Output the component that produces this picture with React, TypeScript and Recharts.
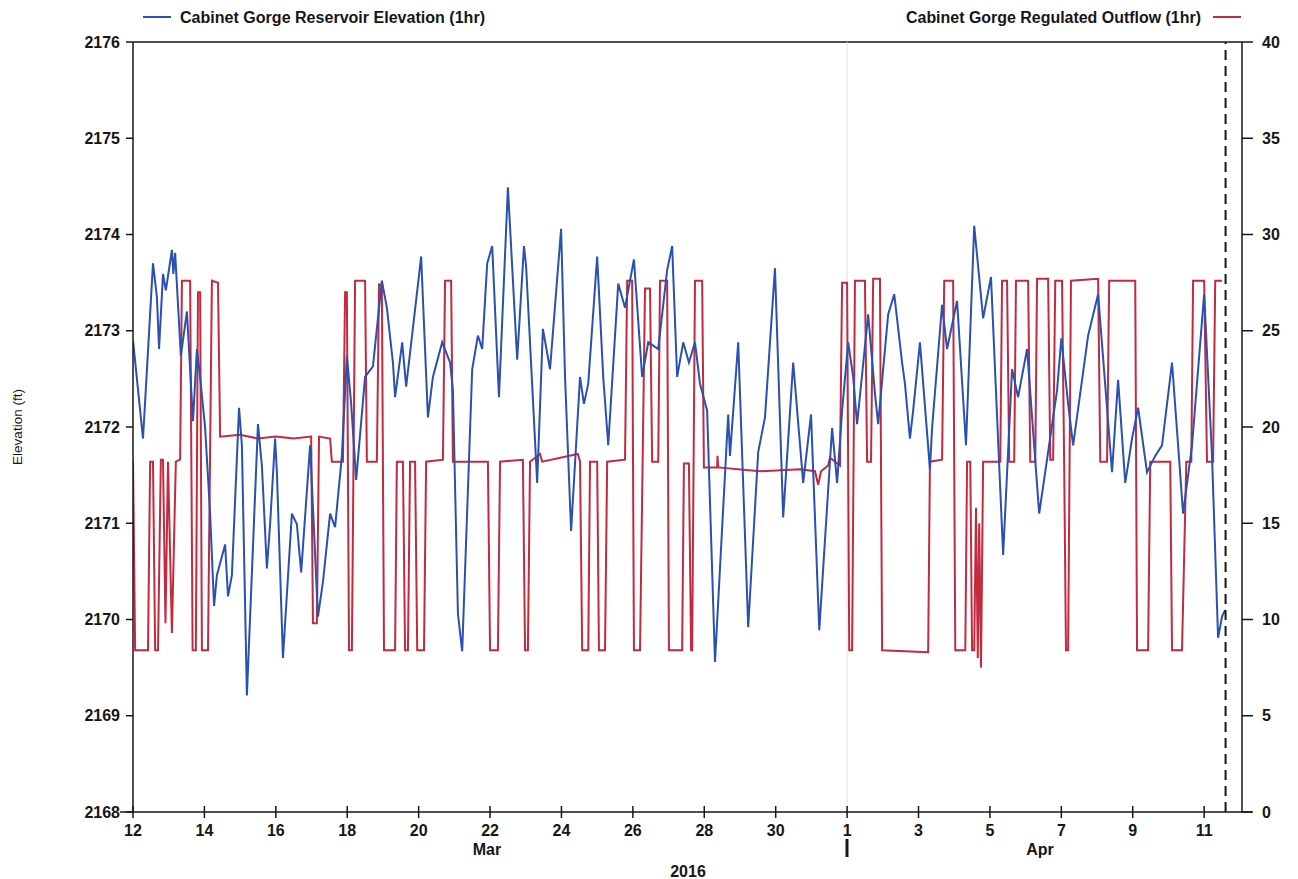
import React from 'react';
import { LineChart, Line, XAxis, YAxis, ReferenceLine } from 'recharts';

// Day offsets from 12 Mar 2016 (0 = Mar 12, 20 = Apr 1)
const elevDays = [
  0.00, 0.28, 0.56, 0.67, 0.73, 0.84, 0.92, 1.09, 1.13, 1.18, 1.34, 1.51, 1.68, 1.79, 1.88, 2.02, 2.16, 2.27, 2.35, 2.58,
  2.66, 2.77, 2.97, 3.05, 3.19, 3.50, 3.61, 3.75, 3.84, 3.98, 4.03, 4.20, 4.45, 4.59, 4.71, 4.96, 5.18, 5.32, 5.52, 5.66,
  5.85, 5.99, 6.11, 6.25, 6.50, 6.72, 6.97, 7.11, 7.28, 7.34, 7.54, 7.65, 7.76, 8.07, 8.26, 8.40, 8.66, 8.88, 8.96, 9.10,
  9.22, 9.50, 9.66, 9.78, 9.92, 10.06, 10.25, 10.50, 10.76, 10.95, 11.01, 11.32, 11.48, 11.68, 11.99, 12.10, 12.27, 12.52, 12.63, 12.75,
  13.00, 13.17, 13.31, 13.59, 13.78, 14.03, 14.26, 14.43, 14.71, 14.96, 15.10, 15.24, 15.41, 15.57, 15.74, 15.88, 16.08, 16.30, 16.67, 16.72,
  16.95, 17.23, 17.51, 17.70, 17.98, 18.21, 18.49, 18.77, 18.99, 19.22, 19.58, 19.72, 19.86, 20.03, 20.17, 20.28, 20.59, 20.78, 20.87, 21.15,
  21.32, 21.54, 21.62, 21.76, 21.85, 22.04, 22.32, 22.38, 22.66, 22.80, 23.08, 23.33, 23.56, 23.81, 24.03, 24.37, 24.62, 24.79, 25.04, 25.38,
  25.88, 26.00, 26.19, 26.33, 26.75, 27.03, 27.42, 27.59, 27.79, 27.98, 28.15, 28.40, 28.63, 28.82, 29.10, 29.41, 29.66, 30.00, 30.22, 30.39,
  30.50, 30.59,
];
const elevValues = [
  2172.90, 2171.88, 2173.70, 2173.35, 2172.81, 2173.59, 2173.42, 2173.84, 2173.59, 2173.81, 2172.74, 2173.20, 2172.06, 2172.81, 2172.52, 2171.99, 2171.10, 2170.14, 2170.46, 2170.78,
  2170.24, 2170.46, 2172.20, 2171.81, 2169.21, 2172.03, 2171.60, 2170.53, 2170.99, 2171.88, 2171.53, 2169.60, 2171.10, 2170.99, 2170.49, 2171.81, 2170.03, 2170.39, 2171.10, 2170.96,
  2171.70, 2172.74, 2172.24, 2171.45, 2172.52, 2172.63, 2173.52, 2173.24, 2172.67, 2172.31, 2172.88, 2172.42, 2172.77, 2173.77, 2172.10, 2172.52, 2172.88, 2172.67, 2172.38, 2170.06,
  2169.67, 2172.60, 2172.95, 2172.81, 2173.70, 2173.88, 2172.31, 2174.49, 2172.70, 2173.88, 2173.67, 2171.42, 2173.02, 2172.60, 2174.06, 2172.52, 2170.92, 2172.52, 2172.24, 2172.45,
  2173.77, 2172.52, 2171.81, 2173.49, 2173.24, 2173.74, 2172.52, 2172.88, 2172.81, 2173.63, 2173.88, 2172.52, 2172.88, 2172.67, 2172.88, 2172.45, 2172.17, 2169.56, 2172.13, 2171.70,
  2172.88, 2169.92, 2171.74, 2172.10, 2173.65, 2171.06, 2172.67, 2171.42, 2172.13, 2169.89, 2171.99, 2171.42, 2172.17, 2172.88, 2172.52, 2172.03, 2173.17, 2172.35, 2172.03, 2173.17,
  2173.38, 2172.67, 2172.45, 2171.88, 2172.17, 2172.88, 2171.56, 2171.99, 2173.27, 2172.81, 2173.31, 2171.81, 2174.09, 2173.13, 2173.56, 2170.67, 2172.60, 2172.31, 2172.81, 2171.10,
  2172.38, 2172.92, 2172.24, 2171.81, 2172.95, 2173.38, 2171.53, 2172.49, 2171.42, 2171.88, 2172.20, 2171.53, 2171.70, 2171.81, 2172.67, 2171.10, 2171.81, 2173.38, 2171.70, 2169.81,
  2170.03, 2170.10,
];

const flowDays = [
  0.00, 0.06, 0.42, 0.48, 0.56, 0.62, 0.70, 0.78, 0.84, 0.91, 0.98, 1.09, 1.20, 1.32, 1.37, 1.60, 1.67, 1.76, 1.82, 1.88,
  1.93, 2.10, 2.21, 2.38, 2.44, 3.00, 3.50, 4.00, 4.50, 4.99, 5.04, 5.15, 5.21, 5.52, 5.57, 5.88, 5.94, 5.99, 6.05, 6.13,
  6.22, 6.50, 6.55, 6.83, 6.89, 6.97, 7.03, 7.34, 7.39, 7.56, 7.62, 7.70, 7.76, 7.90, 7.96, 8.15, 8.21, 8.68, 8.74, 8.91,
  8.96, 9.94, 10.00, 10.22, 10.28, 10.92, 10.98, 11.06, 11.12, 11.40, 11.46, 12.46, 12.52, 12.58, 12.75, 12.80, 13.00, 13.05, 13.22, 13.28,
  13.78, 13.84, 13.98, 14.03, 14.20, 14.34, 14.48, 14.54, 14.71, 14.76, 14.96, 15.01, 15.38, 15.43, 15.57, 15.63, 15.66, 15.74, 15.94, 15.99,
  16.36, 16.37, 16.39, 17.56, 18.68, 19.10, 19.19, 19.27, 19.47, 19.52, 19.80, 19.86, 20.00, 20.06, 20.14, 20.22, 20.50, 20.56, 20.67, 20.73,
  20.92, 20.98, 22.27, 22.32, 22.66, 22.72, 22.97, 23.03, 23.31, 23.36, 23.45, 23.50, 23.56, 23.61, 23.66, 23.70, 23.75, 23.81, 24.29, 24.34,
  24.48, 24.54, 24.68, 24.73, 25.07, 25.13, 25.27, 25.32, 25.63, 25.69, 25.77, 25.83, 26.02, 26.08, 26.13, 26.19, 26.27, 27.03, 27.09, 27.28,
  27.34, 28.07, 28.12, 28.43, 28.49, 29.05, 29.10, 29.38, 29.50, 29.64, 29.69, 30.00, 30.08, 30.25, 30.31, 30.50,
];
const flowValues = [
  18.2, 8.4, 8.4, 18.2, 18.2, 8.4, 8.4, 18.3, 18.3, 9.8, 18.2, 9.3, 18.2, 18.3, 27.6, 27.6, 8.4, 8.4, 27.0, 27.0,
  8.4, 8.4, 27.6, 27.5, 19.5, 19.6, 19.4, 19.5, 19.4, 19.5, 9.8, 9.8, 19.5, 19.4, 18.2, 18.2, 27.0, 27.0, 8.4, 8.4,
  27.6, 27.6, 18.2, 18.2, 27.4, 27.4, 8.4, 8.4, 18.2, 18.2, 8.4, 8.4, 18.2, 18.2, 8.4, 8.4, 18.2, 18.3, 27.6, 27.6,
  18.2, 18.2, 8.4, 8.4, 18.2, 18.3, 8.4, 8.4, 18.2, 18.6, 18.2, 18.6, 18.2, 8.4, 8.4, 18.2, 18.2, 8.4, 8.4, 18.2,
  18.3, 27.6, 27.6, 8.4, 8.4, 27.2, 27.2, 18.2, 18.2, 27.6, 27.6, 8.4, 8.4, 18.1, 18.1, 8.4, 8.4, 27.6, 27.6, 17.9,
  17.9, 18.5, 17.9, 17.7, 17.8, 17.7, 17.0, 17.7, 18.0, 18.4, 18.0, 27.5, 27.5, 8.4, 8.4, 27.6, 27.6, 18.2, 18.2, 27.7,
  27.7, 8.4, 8.3, 18.2, 18.3, 27.6, 27.6, 8.4, 8.4, 18.2, 18.2, 8.4, 8.4, 15.8, 8.0, 15.0, 7.5, 18.2, 18.2, 27.6,
  27.6, 18.2, 18.2, 27.6, 27.6, 18.2, 18.2, 27.7, 27.7, 18.3, 18.3, 27.6, 27.6, 18.0, 8.4, 8.4, 27.6, 27.7, 18.2, 18.2,
  27.6, 27.6, 8.4, 8.4, 18.2, 18.2, 8.4, 8.4, 18.2, 18.2, 27.6, 27.6, 18.2, 18.2, 27.6, 27.6,
];

const xTicks = [0, 2, 4, 6, 8, 10, 12, 14, 16, 18, 20, 22, 24, 26, 28, 30];
const xTickLabels = ['12', '14', '16', '18', '20', '22', '24', '26', '28', '30', '1', '3', '5', '7', '9', '11'];
const leftTicks = [2168, 2169, 2170, 2171, 2172, 2173, 2174, 2175, 2176];
const rightTicks = [0, 5, 10, 15, 20, 25, 30, 35, 40];
const nowDay = 30.6;
const monthBoundaryDay = 20;

const elevData = elevDays.map((d, i) => ({ d, v: elevValues[i] }));
const flowData = flowDays.map((d, i) => ({ d, v: flowValues[i] }));

const FONT = "'Liberation Sans', Arial, sans-serif";
const INK = '#161616';
const BLUE = '#2a50b0';
const RED = '#c22a3e';

const XTick = (props: any) => {
  const { x, y, payload } = props;
  const idx = xTicks.indexOf(payload.value);
  return (
    <g>
      <line x1={x} x2={x} y1={y - 6} y2={y + 6} stroke={INK} strokeWidth={1.5} />
      <text x={x} y={y + 24} textAnchor="middle" fontSize={16} fontWeight="bold" fill={INK} fontFamily={FONT}>
        {idx >= 0 ? xTickLabels[idx] : ''}
      </text>
    </g>
  );
};

export default function App() {
  return (
    <div style={{ position: 'fixed', left: 0, top: 0, width: 1298, height: 879, background: '#fff' }}>
      <LineChart
        width={1298}
        height={879}
        margin={{ top: 42, right: 6, bottom: 37, left: 73 }}
      >
        <XAxis
          xAxisId={0}
          type="number"
          dataKey="d"
          domain={[0, 31.06]}
          ticks={xTicks}
          allowDataOverflow
          height={30}
          tickLine={false}
          tickSize={0}
          tickMargin={0}
          tick={<XTick />}
          axisLine={{ stroke: INK, strokeWidth: 1.5 }}
        />
        <YAxis
          yAxisId="left"
          orientation="left"
          domain={[2168, 2176]}
          ticks={leftTicks}
          width={60}
          tickSize={7}
          tickMargin={6}
          axisLine={{ stroke: INK, strokeWidth: 1.5 }}
          tickLine={{ stroke: INK, strokeWidth: 1.5 }}
          tick={{ fill: INK, fontSize: 16, fontWeight: 'bold', fontFamily: FONT }}
        />
        <YAxis
          yAxisId="right"
          orientation="right"
          domain={[0, 40]}
          ticks={rightTicks}
          width={50}
          tickSize={11}
          tickMargin={9}
          axisLine={{ stroke: INK, strokeWidth: 1.5 }}
          tickLine={{ stroke: INK, strokeWidth: 1.5 }}
          tick={{ fill: INK, fontSize: 16, fontWeight: 'bold', fontFamily: FONT }}
        />
        <ReferenceLine yAxisId="left" y={2176} stroke={INK} strokeWidth={1.5} ifOverflow="extendDomain" />
        <ReferenceLine yAxisId="left" x={monthBoundaryDay} stroke="#e2e2e2" strokeWidth={1} />
        <Line
          yAxisId="right"
          data={flowData}
          dataKey="v"
          type="linear"
          stroke={RED}
          strokeWidth={2}
          dot={false}
          isAnimationActive={false}
        />
        <Line
          yAxisId="left"
          data={elevData}
          dataKey="v"
          type="linear"
          stroke={BLUE}
          strokeWidth={2}
          dot={false}
          isAnimationActive={false}
        />
        <ReferenceLine yAxisId="left" x={nowDay} stroke={INK} strokeWidth={2} strokeDasharray="10 6" />
      </LineChart>
      <svg
        width={1298}
        height={879}
        style={{ position: 'absolute', left: 0, top: 0, pointerEvents: 'none' }}
      >
        <line x1={143} x2={171} y1={17} y2={17} stroke={BLUE} strokeWidth={2} />
        <text x={180} y={23} fontSize={16} fontWeight="bold" fill={INK} fontFamily={FONT} textLength={305} lengthAdjust="spacingAndGlyphs">
          Cabinet Gorge Reservoir Elevation (1hr)
        </text>
        <text x={906} y={23} fontSize={16} fontWeight="bold" fill={INK} fontFamily={FONT} textLength={295} lengthAdjust="spacingAndGlyphs">
          Cabinet Gorge Regulated Outflow (1hr)
        </text>
        <line x1={1213} x2={1241} y1={17} y2={17} stroke={RED} strokeWidth={2} />
        <text
          x={22}
          y={427}
          transform="rotate(-90 22 427)"
          textAnchor="middle"
          fontSize={13.5}
          fill={INK}
          fontFamily={FONT}
        >
          Elevation (ft)
        </text>
        <text x={487} y={855} textAnchor="middle" fontSize={16} fontWeight="bold" fill={INK} fontFamily={FONT}>Mar</text>
        <text x={1040} y={855} textAnchor="middle" fontSize={16} fontWeight="bold" fill={INK} fontFamily={FONT}>Apr</text>
        <text x={688} y={877} textAnchor="middle" fontSize={16} fontWeight="bold" fill={INK} fontFamily={FONT}>2016</text>
        <line x1={847} x2={847} y1={839} y2={857} stroke={INK} strokeWidth={3} />
        <line x1={120} x2={133} y1={812} y2={812} stroke={INK} strokeWidth={1.5} />
        <line x1={1242} x2={1252} y1={812} y2={812} stroke={INK} strokeWidth={1.5} />
      </svg>
    </div>
  );
}
